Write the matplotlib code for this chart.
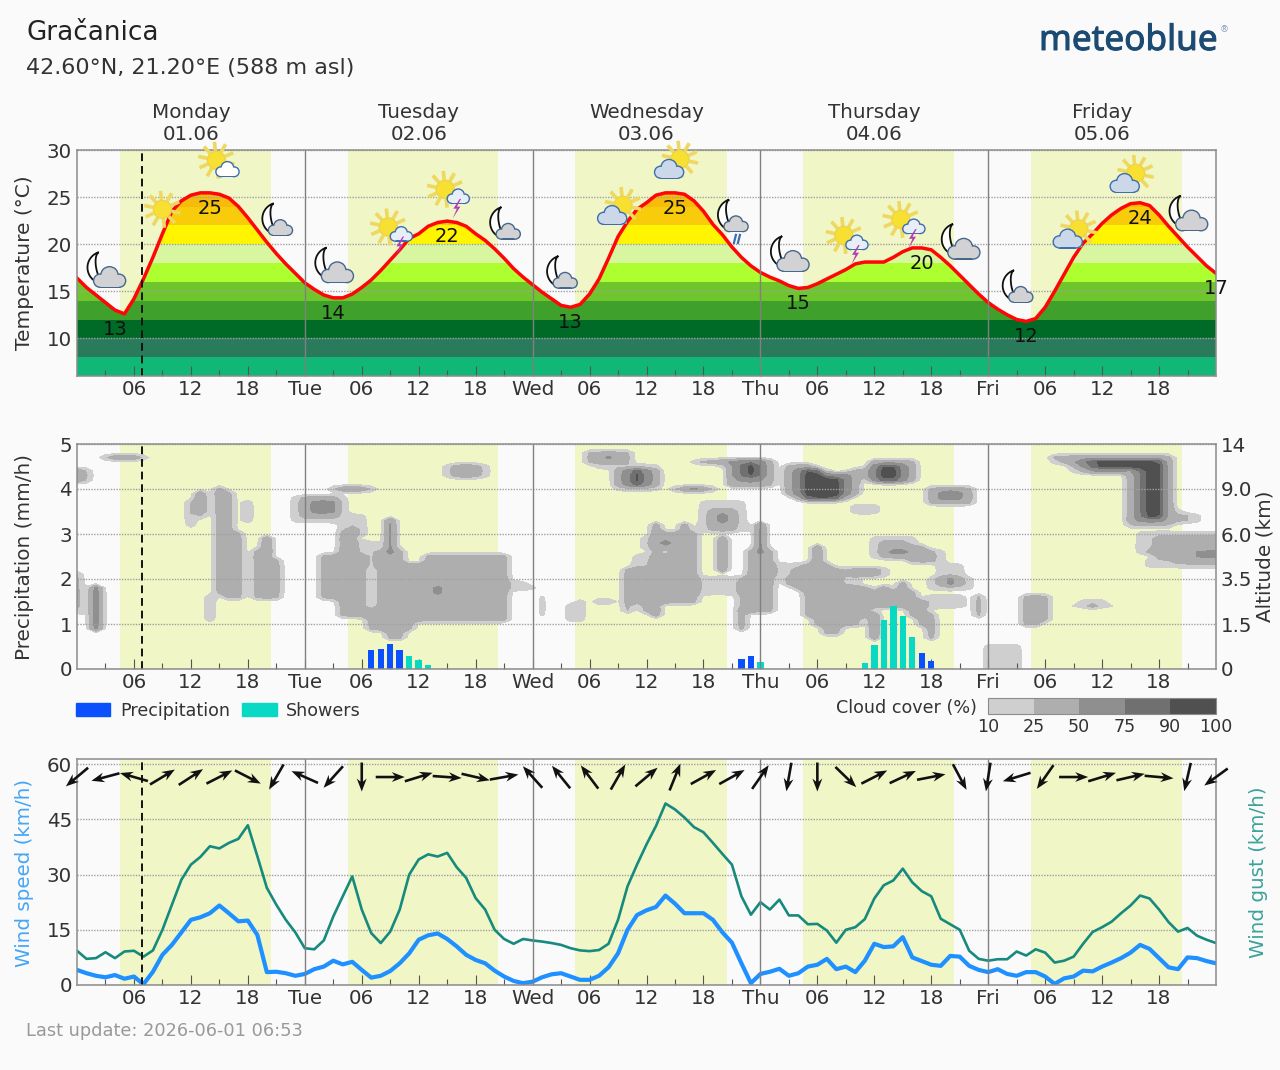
import numpy as np
import matplotlib
matplotlib.use("Agg")
import matplotlib.pyplot as plt
import matplotlib.patheffects as pe
from matplotlib.patches import Circle, Polygon, Rectangle, Patch

# hourly forecast, 121 values from Monday 00:00 to Saturday 00:00
temperature = [16.4, 15.4, 14.6, 13.8, 13.0, 12.6, 14.2, 16.3, 18.6, 21.1, 23.5, 24.6, 25.2, 25.45, 25.45, 25.3, 24.9,
               24.0, 22.8, 21.5, 20.2, 19.0, 17.9, 16.9, 15.9, 15.2, 14.6, 14.3, 14.3, 14.7, 15.4, 16.2, 17.2, 18.3,
               19.4, 20.6, 21.1, 21.9, 22.3, 22.45, 22.3, 21.9, 21.1, 20.4, 19.5, 18.5, 17.4, 16.5, 15.7, 14.9, 14.2,
               13.5, 13.3, 13.6, 14.7, 16.3, 18.5, 20.8, 22.4, 23.7, 24.4, 25.2, 25.45, 25.45, 25.3, 24.6, 23.5, 22.1,
               21.0, 19.7, 18.6, 17.7, 17.0, 16.5, 16.1, 15.6, 15.3, 15.4, 15.8, 16.3, 16.8, 17.3, 17.9, 18.1, 18.1,
               18.1, 18.6, 19.2, 19.6, 19.6, 19.4, 18.6, 17.7, 16.7, 15.7, 14.7, 13.8, 13.1, 12.5, 12.0, 11.8, 12.1,
               13.3, 15.0, 16.8, 18.6, 20.1, 21.1, 22.2, 23.1, 23.8, 24.3, 24.4, 24.1, 23.1, 21.9, 20.8, 19.7, 18.7,
               17.7, 16.9]
wind_speed = [4.1, 3.2, 2.5, 2.1, 2.7, 1.7, 2.3, 0.2, 3.6, 8.2, 10.9, 14.3, 17.7, 18.4, 19.5, 21.6, 19.5, 17.3, 17.5,
              13.6, 3.5, 3.6, 3.2, 2.5, 3.0, 4.3, 5.0, 6.6, 5.6, 6.3, 4.1, 2.0, 2.5, 3.8, 5.9, 8.6, 12.3, 13.5, 14.0,
              12.5, 10.5, 8.2, 6.8, 5.9, 3.9, 2.3, 1.1, 0.5, 0.9, 2.1, 2.9, 3.2, 2.3, 1.4, 1.4, 2.5, 4.8, 8.6, 15.0,
              19.0, 20.3, 21.2, 24.3, 22.1, 19.5, 19.5, 19.5, 17.7, 14.3, 11.5, 5.9, 0.5, 3.0, 3.6, 4.4, 2.5, 3.2, 5.0,
              5.5, 7.1, 4.3, 5.0, 3.5, 6.6, 11.2, 10.3, 10.5, 13.0, 7.5, 6.5, 5.5, 5.2, 7.9, 7.7, 5.2, 4.1, 3.5, 4.3,
              3.0, 2.5, 3.5, 3.5, 2.3, 0.3, 1.8, 2.3, 3.9, 3.7, 5.0, 6.1, 7.3, 8.8, 10.9, 9.8, 7.3, 4.8, 4.3, 7.5, 7.3,
              6.5, 5.9]
wind_gust = [9.3, 7.1, 7.3, 8.9, 7.3, 9.1, 9.3, 7.7, 9.4, 15.0, 21.8, 28.6, 32.7, 34.8, 37.7, 37.1, 38.6, 39.7, 43.4,
             35.0, 26.4, 21.8, 17.7, 14.3, 10.0, 9.7, 12.1, 18.6, 24.1, 29.5, 20.5, 14.1, 11.4, 14.5, 20.5, 30.0, 34.1,
             35.5, 34.9, 35.9, 32.0, 29.1, 23.6, 20.5, 15.0, 12.5, 11.2, 12.5, 12.1, 11.8, 11.4, 10.9, 10.0, 9.4, 9.2,
             9.5, 11.2, 17.7, 26.8, 32.7, 38.2, 43.2, 49.3, 47.7, 45.5, 42.9, 41.5, 38.6, 35.6, 32.7, 24.1, 19.1, 22.5,
             20.5, 23.2, 18.9, 18.9, 16.5, 16.6, 14.8, 11.5, 15.0, 15.7, 17.9, 23.5, 27.1, 28.4, 31.6, 27.9, 25.5, 24.1,
             18.0, 16.5, 15.0, 9.3, 7.1, 6.6, 7.0, 7.0, 9.1, 8.0, 9.7, 8.8, 6.1, 6.6, 7.7, 11.2, 14.4, 15.7, 17.2, 19.5,
             21.6, 24.3, 23.5, 20.5, 17.1, 14.5, 15.5, 13.4, 12.3, 11.4]

# wind direction every 3 hours, heading of the arrow in degrees
wind_dir = [220, 195, 164, 31, 33, 27, -27, 240, 156, 228, 270, 0, 17, -4, -13, 10, 132, 129, 127, 60, 40, 68, 29, 29,
            55, 260, 270, -44, 27, 25, 11, -62, 261, 197, 235, 0, 17, 13, -5, 257, 216]

precip_hours = [31, 32, 33, 34, 70, 71, 89, 90]
precip_vals = [0.43, 0.45, 0.55, 0.43, 0.22, 0.30, 0.35, 0.18]
shower_hours = [35, 36, 37, 72, 83, 84, 85, 86, 87, 88]
shower_vals = [0.28, 0.20, 0.10, 0.15, 0.13, 0.54, 1.09, 1.39, 1.18, 0.72]

sunrise = [4.5, 28.5, 52.5, 76.5, 100.5]
sunset = [20.4, 44.4, 68.5, 92.4, 116.4]
now_hour = 6.88

day_names = ["Monday", "Tuesday", "Wednesday", "Thursday", "Friday"]
day_dates = ["01.06", "02.06", "03.06", "04.06", "05.06"]
day_short = ["Tue", "Wed", "Thu", "Fri"]

temp_band_edges = [6, 8, 10, 12, 14, 16, 18, 20, 22, 24, 26]
temp_band_colors = ["#10B776", "#2A7A5C", "#006B27", "#40A02C", "#6EC62C", "#AEFF2F", "#D8F5A0", "#FFF500", "#F8CB0B",
                    "#F6BC0B"]

# day extremes that get a number: hour the label sits at, hour it reads from
temp_label_at = [4, 14, 27, 39, 52, 63, 76, 89, 100, 112, 120]
temp_label_from = [5, 13, 27, 39, 52, 62, 76, 88, 100, 112, 120]

# weather symbols every 6 hours
icon_hours = [3, 9, 15, 21, 27, 33, 39, 45, 51, 57, 63, 69, 75, 81, 87, 93, 99, 105, 111, 117]
icon_temps = [17.2, 23.7, 28.7, 22.6, 17.7, 21.3, 25.3, 22.2, 17.0, 23.8, 28.7, 23.0, 18.9, 20.4, 22.1, 20.2, 15.5,
              21.3, 27.2, 23.2]
icon_kinds = ["moon_big", "sun", "sun_white", "moon_small", "moon_big", "sun_storm", "sun_storm", "moon_small",
              "moon_small", "sun_cloud", "sun_cloud", "moon_rain", "moon_big", "sun_storm", "sun_storm", "moon_big",
              "moon_small", "sun_cloud", "sun_cloud", "moon_big"]

# cloud cover, height is on the 0-5 scale of the precipitation axis
# each entry: first hour, last hour, lower level, upper level, cover in %
cloud_cells = [
    (0, 1, 4.2, 4.4, 26), (0, 0, 4.2, 4.4, 55), (3, 7, 4.7, 4.7, 28), (4, 6, 4.7, 4.7, 56),
    (2, 2, 0.9, 1.8, 85), (0, 0, 1.3, 2.1, 32), (12, 12, 3.2, 3.7, 26), (13, 13, 3.4, 3.9, 26), (13, 13, 3.5, 3.9, 60),
    (15, 16, 3.0, 3.9, 38), (15, 15, 3.9, 4.0, 45), (15, 15, 1.7, 3.0, 38), (16, 17, 1.6, 3.0, 38),
    (14, 14, 1.1, 1.6, 26), (18, 18, 3.3, 3.7, 26), (19, 20, 1.6, 2.6, 38), (20, 20, 2.6, 2.9, 60),
    (21, 21, 1.6, 2.4, 38),
    # Tuesday
    (27, 31, 4.0, 4.0, 30), (28, 30, 4.0, 4.0, 56), (23, 28, 3.3, 3.8, 18), (24, 27, 3.4, 3.8, 36),
    (25, 27, 3.5, 3.7, 62), (28, 30, 3.1, 3.4, 18), (30, 31, 2.5, 2.8, 18), (30, 30, 3.0, 3.3, 20),
    (26, 30, 1.6, 2.5, 38), (28, 30, 1.2, 1.6, 38), (28, 29, 2.5, 3.0, 38), (29, 29, 3.0, 3.1, 50),
    (31, 31, 1.3, 2.3, 0), (31, 31, 2.3, 2.5, 18), (31, 31, 0.9, 1.3, 38), (32, 45, 1.1, 2.3, 38),
    (37, 45, 2.3, 2.5, 38), (32, 34, 2.3, 2.6, 38), (33, 33, 2.6, 3.3, 70), (31, 35, 0.9, 1.1, 38),
    (33, 34, 0.7, 0.9, 38), (38, 38, 1.7, 1.8, 66), (46, 47, 1.8, 1.9, 20), (48, 48, 1.8, 1.8, 22),
    (49, 49, 1.2, 1.6, 18), (39, 43, 4.3, 4.5, 18), (40, 42, 4.3, 4.5, 42),
    # Wednesday
    (52, 53, 1.1, 1.4, 22), (53, 53, 1.4, 1.5, 22), (54, 58, 4.6, 4.8, 34), (55, 57, 4.5, 4.5, 18),
    (56, 56, 4.7, 4.7, 75), (57, 61, 4.1, 4.4, 40), (58, 60, 4.1, 4.4, 68), (59, 59, 4.1, 4.4, 100),
    (57, 61, 4.0, 4.0, 15), (57, 61, 4.5, 4.5, 15), (58, 65, 1.5, 2.2, 38), (58, 58, 1.3, 1.5, 38),
    (60, 61, 1.3, 1.5, 38), (61, 61, 1.2, 1.3, 50), (61, 65, 2.2, 3.0, 38), (61, 61, 3.0, 3.2, 50),
    (64, 64, 3.0, 3.2, 50), (62, 62, 2.8, 2.8, 78), (62, 62, 2.6, 2.6, 0), (59, 60, 2.3, 2.5, 20),
    (60, 60, 2.7, 2.9, 24), (55, 56, 1.5, 1.5, 35),
    (63, 67, 4.0, 4.0, 30), (64, 66, 4.0, 4.0, 56), (65, 65, 4.0, 4.0, 80), (66, 70, 3.1, 3.7, 18),
    (67, 69, 3.1, 3.5, 38), (68, 68, 3.3, 3.4, 75), (68, 68, 2.2, 2.9, 60),
    (66, 69, 1.7, 2.0, 20), (70, 70, 1.3, 2.0, 30), (71, 73, 1.3, 2.6, 38), (72, 72, 2.6, 3.2, 70),
    (70, 70, 0.9, 1.3, 45),
    # Thursday
    (74, 76, 2.1, 2.3, 20), (78, 78, 2.3, 2.7, 60), (77, 79, 2.2, 2.3, 38), (76, 80, 2.0, 2.2, 38),
    (75, 81, 1.9, 2.0, 38), (76, 82, 1.8, 1.9, 38), (77, 83, 1.2, 1.8, 38), (78, 82, 1.0, 1.2, 38),
    (79, 80, 0.8, 1.0, 38), (84, 88, 1.4, 1.7, 38), (85, 85, 1.7, 1.8, 50), (87, 87, 1.7, 1.9, 50),
    (84, 84, 0.7, 1.2, 60), (88, 89, 1.2, 1.5, 38), (89, 90, 1.0, 1.2, 38), (90, 90, 0.7, 1.0, 45),
    (81, 85, 2.1, 2.2, 24), (82, 84, 2.1, 2.2, 42), (81, 82, 1.9, 2.0, 18), (84, 88, 2.5, 2.9, 18),
    (88, 91, 2.4, 2.6, 18), (85, 89, 2.5, 2.7, 36), (85, 87, 2.7, 2.8, 36), (88, 90, 2.4, 2.6, 36),
    (86, 87, 2.6, 2.6, 72), (91, 93, 2.1, 2.3, 18), (90, 94, 1.8, 2.0, 18), (91, 93, 1.9, 2.0, 36),
    (92, 92, 1.9, 2.0, 70), (90, 93, 1.4, 1.6, 20), (95, 95, 1.2, 1.6, 40),
    (69, 73, 4.1, 4.6, 50), (70, 72, 4.3, 4.6, 80), (71, 71, 4.3, 4.5, 100), (73, 73, 4.1, 4.6, 35),
    (65, 66, 4.6, 4.6, 20), (66, 69, 4.6, 4.6, 42), (68, 69, 4.6, 4.6, 60),
    (75, 77, 3.9, 4.5, 38), (78, 82, 3.9, 4.3, 38), (76, 81, 3.8, 3.8, 30), (76, 81, 3.9, 4.3, 70),
    (76, 77, 4.3, 4.4, 70), (77, 80, 3.8, 4.2, 100), (77, 78, 4.2, 4.4, 100), (82, 85, 4.3, 4.4, 38),
    (84, 88, 4.2, 4.6, 38), (84, 87, 4.2, 4.5, 70), (85, 86, 4.2, 4.5, 100), (82, 84, 3.5, 3.6, 24),
    (90, 94, 3.7, 4.0, 36), (91, 93, 3.8, 3.9, 60), (92, 92, 3.9, 3.9, 82),
    # Friday
    (96, 99, 0.0, 0.5, 20), (100, 102, 1.1, 1.6, 38), (100, 101, 1.0, 1.1, 38), (106, 108, 1.4, 1.5, 18),
    (105, 109, 1.4, 1.4, 16), (107, 107, 1.4, 1.4, 50), (103, 115, 4.7, 4.7, 40), (103, 103, 4.6, 4.6, 15),
    (104, 104, 4.6, 4.6, 30), (105, 105, 4.6, 4.6, 50), (106, 106, 4.6, 4.6, 75), (107, 114, 4.6, 4.6, 100),
    (105, 105, 4.5, 4.5, 25), (106, 106, 4.5, 4.5, 55), (107, 107, 4.5, 4.5, 85), (108, 114, 4.5, 4.5, 100),
    (105, 105, 4.4, 4.4, 15), (106, 106, 4.4, 4.4, 30), (107, 110, 4.4, 4.4, 55), (115, 115, 4.5, 4.6, 40),
    (111, 111, 3.4, 4.4, 35), (112, 112, 3.4, 4.4, 75), (113, 113, 3.4, 4.4, 100), (114, 114, 3.4, 4.4, 100),
    (115, 115, 3.4, 4.4, 40), (111, 115, 3.2, 3.2, 28), (111, 115, 3.3, 3.3, 45), (112, 114, 3.3, 3.3, 62),
    (116, 116, 3.5, 3.5, 15), (116, 117, 3.3, 3.4, 30), (118, 118, 3.3, 3.4, 18),
    (112, 120, 3.0, 3.0, 20), (112, 113, 2.6, 3.0, 18), (113, 120, 2.3, 2.4, 20), (114, 120, 2.5, 2.9, 38),
    (116, 120, 2.4, 2.5, 38), (113, 113, 2.6, 2.6, 38), (118, 120, 2.5, 2.6, 55),
]
cloud_levels = [10, 25, 50, 75, 90, 100]
cloud_colors = ["#CFCFCF", "#AEAEAE", "#8F8F8F", "#707070", "#505050"]

altitude_labels = ["0", "1.5", "3.5", "6.0", "9.0", "14"]

BG = "#FAFAFA"
DAY = "#F0F6C6"
TEXT = "#333333"
SPINE = "#8C8C8C"
GRID = "#A0A0A0"
FS = 14.3

hours = np.arange(121)

fig = plt.figure(figsize=(12.8, 10.7), dpi=100, facecolor=BG)


def panel(top, bottom):
    return fig.add_axes([77 / 1280, 1 - bottom / 1070, 1139 / 1280, (bottom - top) / 1070], facecolor=BG)


ax1 = panel(150, 376)
ax2 = panel(444, 669)
ax3 = panel(759, 985)

tick_major = [h for h in range(6, 120, 6) if h % 24 != 0]
tick_minor = list(range(3, 120, 6))
for ax in (ax1, ax2, ax3):
    ax.set_xlim(0, 120)
    for a, b in zip(sunrise, sunset):
        ax.axvspan(a, b, color=DAY, lw=0, zorder=0)
    for h in [24, 48, 72, 96]:
        ax.axvline(h, color="#808080", lw=1, zorder=5)
    ax.axvline(now_hour, color="#111111", lw=1.4, ls=(0, (4, 2.5)), zorder=6)
    ax.grid(axis="y", color=GRID, lw=1, ls=(0, (1, 1)), zorder=0.5)
    ax.set_axisbelow(False)
    labels = {h: f"{h % 24:02d}" for h in tick_major}
    labels.update({24 * (i + 1): d for i, d in enumerate(day_short)})
    ticks = sorted(labels)
    ax.set_xticks(ticks)
    ax.set_xticklabels([labels[h] for h in ticks])
    ax.set_xticks(tick_minor, minor=True)
    ax.tick_params(axis="x", which="major", direction="in", length=7.5, width=0.8, color="#555555", pad=3.2,
                   labelsize=FS, labelcolor=TEXT)
    ax.tick_params(axis="x", which="minor", direction="in", length=4, width=0.8, color="#555555")
    ax.tick_params(axis="y", length=0, pad=3.5, labelsize=FS, labelcolor=TEXT)
    for s in ax.spines.values():
        s.set_color(SPINE)
        s.set_linewidth(1.1)
        s.set_zorder(7)

# temperature panel: coloured bands only under the curve
ax1.set_ylim(6, 30)
ax1.set_yticks([10, 15, 20, 25, 30])
temp = np.array(temperature)
clip = Polygon(np.column_stack([np.r_[0, hours, 120], np.r_[6, temp, 6]]), transform=ax1.transData)
for i, c in enumerate(temp_band_colors):
    band = ax1.axhspan(temp_band_edges[i], temp_band_edges[i + 1], color=c, lw=0, zorder=1)
    band.set_clip_path(clip)
ax1.plot(hours, temp, color="#FF0505", lw=2.5, zorder=4, solid_joinstyle="round")
for at, src in zip(temp_label_at, temp_label_from):
    ax1.text(at, temperature[src] - 1.65, f"{temperature[src]:.0f}", ha="center", va="center", fontsize=14,
             color="#111111", zorder=8, clip_on=False)

for i, h in enumerate([12, 36, 60, 84, 108]):
    ax1.text(h, 1.168, day_names[i], transform=ax1.get_xaxis_transform(), ha="center", va="center", fontsize=FS,
             color=TEXT)
    ax1.text(h, 1.07, day_dates[i], transform=ax1.get_xaxis_transform(), ha="center", va="center", fontsize=FS,
             color=TEXT)

# precipitation and cloud panel
ax2.set_ylim(0, 5)
ax2.set_yticks(range(6))
level_axis = np.round(np.arange(0, 5.01, 0.1), 1)
cover = np.zeros((len(level_axis), len(hours)))
for h0, h1, y0, y1, val in cloud_cells:
    r0 = int(round(y0 * 10))
    r1 = int(round(y1 * 10))
    cover[r0:r1 + 1, h0:h1 + 1] = val

# light 1-6-1 pass over the table so the cloud outlines come out rounded
for axis in (0, 1):
    cover = (6 * cover + np.take(cover, np.r_[0, np.arange(cover.shape[axis] - 1)], axis=axis)
             + np.take(cover, np.r_[np.arange(1, cover.shape[axis]), cover.shape[axis] - 1], axis=axis)) / 8

clouds = ax2.contourf(hours, level_axis, cover, levels=cloud_levels, colors=cloud_colors, zorder=1)
ax2.bar(precip_hours, precip_vals, width=0.68, color="#0A50FF", zorder=4)
ax2.bar(shower_hours, shower_vals, width=0.68, color="#08D9C5", zorder=4)
ax2.legend(handles=[Patch(color="#0A50FF", label="Precipitation"), Patch(color="#08D9C5", label="Showers")],
           loc="upper left", bbox_to_anchor=(-0.001, -0.145), ncol=2, frameon=False, fontsize=12.6, labelcolor=TEXT,
           borderaxespad=0, borderpad=0, handlelength=1.97, handleheight=0.72, handletextpad=0.55, columnspacing=0.7)

ax2r = ax2.twinx()
ax2r.set_ylim(0, 5)
ax2r.set_yticks(range(6))
ax2r.set_yticklabels(altitude_labels)
ax2r.tick_params(axis="y", length=0, pad=3.5, labelsize=FS, labelcolor=TEXT)
for s in ax2r.spines.values():
    s.set_visible(False)

cax = fig.add_axes([988 / 1280, 1 - 714 / 1070, 228 / 1280, 16 / 1070])
cbar = fig.colorbar(clouds, cax=cax, orientation="horizontal", ticks=cloud_levels, spacing="uniform")
cbar.ax.tick_params(length=0, pad=3, labelsize=12.6, labelcolor=TEXT)
cbar.outline.set_edgecolor(SPINE)
fig.text(977 / 1280, 1 - 708 / 1070, "Cloud cover (%)", ha="right", va="center", fontsize=12.6, color=TEXT)

# wind panel
ax3.set_ylim(0, 61.4)
ax3.set_yticks([0, 15, 30, 45, 60])
ax3.plot(hours, wind_gust, color="#178A7E", lw=1.9, zorder=3)
ax3.plot(hours, wind_speed, color="#1E90FF", lw=3, zorder=4)
rad = np.radians(wind_dir)
arrow_hours = np.arange(0, 121, 3)
ax3.quiver(arrow_hours, np.full(len(arrow_hours), 56.5), np.cos(rad), np.sin(rad), angles="uv", pivot="mid",
           units="dots", width=2.6, scale_units="dots", scale=1 / 29, headwidth=3.8, headlength=5, headaxislength=3.8,
           color="#111111", zorder=8, clip_on=False)

# side labels and header
fig.text(25 / 1280, 1 - 263 / 1070, "Temperature (°C)", rotation=90, ha="center", va="center", fontsize=14.5, color=TEXT)
fig.text(25 / 1280, 1 - 557 / 1070, "Precipitation (mm/h)", rotation=90, ha="center", va="center", fontsize=14.4,
         color=TEXT)
fig.text(1265 / 1280, 1 - 556 / 1070, "Altitude (km)", rotation=90, ha="center", va="center", fontsize=14.4, color=TEXT)
fig.text(25 / 1280, 1 - 873 / 1070, "Wind speed (km/h)", rotation=90, ha="center", va="center", fontsize=14.3,
         color="#45A6F5")
fig.text(1259 / 1280, 1 - 872 / 1070, "Wind gust (km/h)", rotation=90, ha="center", va="center", fontsize=14.3,
         color="#3BA39B")
fig.text(26 / 1280, 1 - 33 / 1070, "Gračanica", ha="left", va="center", fontsize=18.9, color="#222222")
fig.text(26 / 1280, 1 - 68 / 1070, "42.60°N, 21.20°E (588 m asl)", ha="left", va="center", fontsize=16, color=TEXT)
fig.text(26 / 1280, 1 - 1031 / 1070, "Last update: 2026-06-01 06:53", ha="left", va="center", fontsize=12.8,
         color="#999999")
fig.text(1039 / 1280, 1 - 41 / 1070, "meteoblue", ha="left", va="center", fontsize=25.3, family="Noto Sans",
         color="#1B4A72", path_effects=[pe.withStroke(linewidth=0.7, foreground="#1B4A72")])
fig.text(1220 / 1280, 1 - 30 / 1070, "®", ha="left", va="center", fontsize=6.5, color="#7F9DB9")

# weather symbols are drawn on a transparent layer in pixel units
overlay = fig.add_axes([0, 0, 1, 1], facecolor="none")
overlay.set_xlim(0, 1280)
overlay.set_ylim(1070, 0)
overlay.axis("off")


def draw_sun(cx, cy):
    for a in np.radians(np.arange(0, 360, 36) + 12):
        overlay.plot([cx + 9.5 * np.cos(a), cx + 18.5 * np.cos(a)], [cy + 9.5 * np.sin(a), cy + 18.5 * np.sin(a)],
                     color="#EFD860", lw=2.6, solid_capstyle="butt", zorder=10)
    overlay.add_patch(Circle((cx, cy), 9, fc="#F8E032", ec="#EDD24A", lw=1, zorder=11))


def draw_cloud(cx, cy, w, fill, edge):
    parts = [(-0.30 * w, 0.07 * w, 0.19 * w), (0.0, -0.10 * w, 0.26 * w), (0.31 * w, 0.07 * w, 0.19 * w)]
    body = (cx - 0.30 * w, cy + 0.07 * w, 0.61 * w, 0.19 * w)
    for grow, colour, z in [(1.4, edge, 12), (0, fill, 13)]:
        for dx, dy, r in parts:
            overlay.add_patch(Circle((cx + dx, cy + dy), r + grow, fc=colour, ec="none", zorder=z))
        overlay.add_patch(Rectangle((body[0], body[1]), body[2], body[3] + grow, fc=colour, ec="none", zorder=z))


def draw_moon(cx, cy, r):
    t = np.radians(np.linspace(-85, 85, 40))
    tip = r * np.cos(t[0])
    outer = np.column_stack([-r * np.cos(t), r * np.sin(t)])
    inner = np.column_stack([-(tip + (r * np.cos(t) - tip) * 0.4), r * np.sin(t)])[::-1]
    pts = np.vstack([outer, inner])
    a = np.radians(12)
    rot = np.column_stack([pts[:, 0] * np.cos(a) + pts[:, 1] * np.sin(a), -pts[:, 0] * np.sin(a) + pts[:, 1] * np.cos(a)])
    overlay.add_patch(Polygon(rot + [cx, cy], fc="white", ec="#111111", lw=1.3, zorder=11))


def draw_bolt(cx, cy):
    shape = 1.4 * np.array([[2.5, -6], [-2, 1], [0.5, 1], [-2.5, 8], [3, -0.5], [0.5, -0.5], [3.5, -6]])
    overlay.add_patch(Polygon(shape + [cx, cy], fc="#B23DB5", ec="none", zorder=14))


def draw_icon(kind, cx, cy):
    if kind == "moon_big":
        draw_moon(cx - 2, cy - 3, 16)
        draw_cloud(cx + 4, cy + 8, 31, "#D2D2D4", "#46678C")
    elif kind in ("moon_small", "moon_rain"):
        draw_moon(cx + 2, cy - 1, 16)
        draw_cloud(cx + 4, cy + 9, 23, "#D2D2D4", "#46678C")
        if kind == "moon_rain":
            overlay.plot([cx + 4, cx + 2], [cy + 19, cy + 27], color="#3C6EB0", lw=1.6, zorder=14)
            overlay.plot([cx + 8, cx + 6], [cy + 19, cy + 27], color="#3C6EB0", lw=1.6, zorder=14)
    elif kind == "sun":
        draw_sun(cx, cy)
    elif kind == "sun_white":
        draw_sun(cx - 3, cy - 2)
        draw_cloud(cx + 8, cy + 8, 22, "white", "#3C6EB0")
    elif kind == "sun_storm":
        draw_sun(cx - 2, cy - 5)
        draw_cloud(cx + 11, cy + 3, 21, "#E8EEF6", "#3C6EB0")
        draw_bolt(cx + 9, cy + 13)
    elif kind == "sun_cloud":
        draw_sun(cx + 5, cy - 3)
        draw_cloud(cx - 6, cy + 8, 28, "#CBD8EA", "#3C6EB0")


for h, t, kind in zip(icon_hours, icon_temps, icon_kinds):
    px, py = ax1.transData.transform((h, t))
    draw_icon(kind, px, 1070 - py)

fig.savefig("out.png", dpi=100, facecolor=BG)
